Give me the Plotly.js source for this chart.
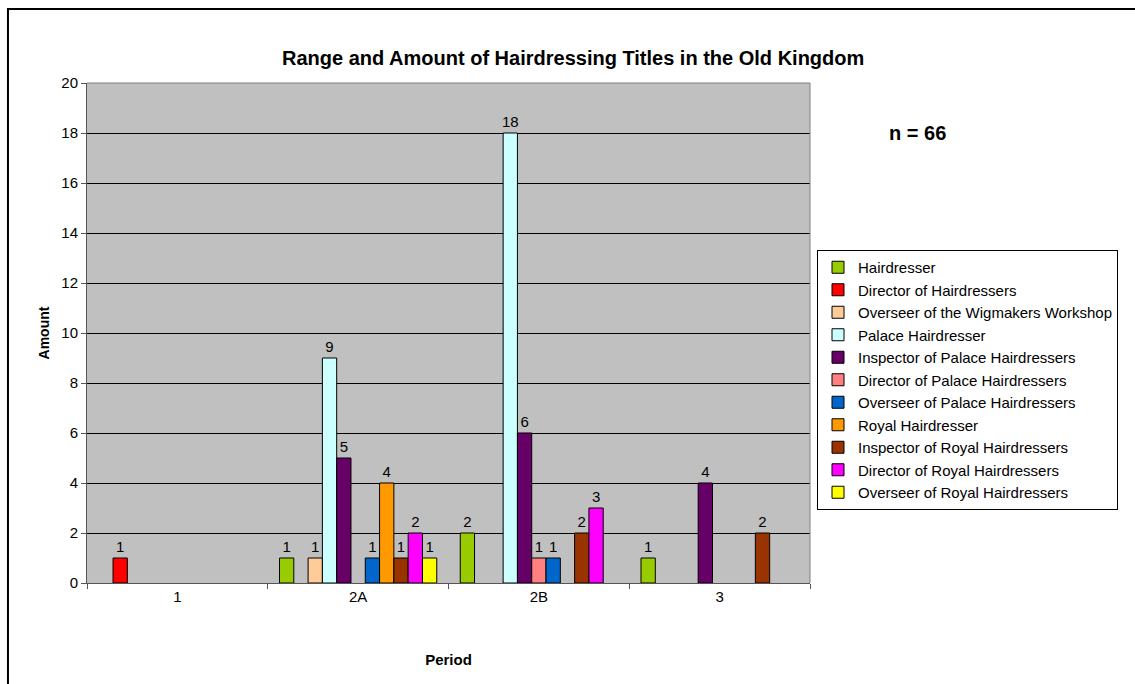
<!DOCTYPE html>
<html>
<head>
<meta charset="utf-8">
<script src="https://cdn.plot.ly/plotly-3.0.1.min.js"></script>
<style>
html,body{margin:0;padding:0;background:#fff;}
#chart{width:1135px;height:684px;}
</style>
</head>
<body>
<div id="chart"></div>
<script>
const periods = ["1", "2A", "2B", "3"];
const seriesNames = [
  "Hairdresser",
  "Director of Hairdressers",
  "Overseer of the Wigmakers Workshop",
  "Palace Hairdresser",
  "Inspector of Palace Hairdressers",
  "Director of Palace Hairdressers",
  "Overseer of Palace Hairdressers",
  "Royal Hairdresser",
  "Inspector of Royal Hairdressers",
  "Director of Royal Hairdressers",
  "Overseer of Royal Hairdressers"
];
const hairdresser             = [null, 1, 2, 1];
const directorOfHairdressers  = [1, null, null, null];
const overseerWigmakers       = [null, 1, null, null];
const palaceHairdresser       = [null, 9, 18, null];
const inspectorPalace         = [null, 5, 6, 4];
const directorPalace          = [null, null, 1, null];
const overseerPalace          = [null, 1, 1, null];
const royalHairdresser        = [null, 4, null, null];
const inspectorRoyal          = [null, 1, 2, 2];
const directorRoyal           = [null, 2, 3, null];
const overseerRoyal           = [null, 1, null, null];
const seriesValues = [hairdresser, directorOfHairdressers, overseerWigmakers, palaceHairdresser,
  inspectorPalace, directorPalace, overseerPalace, royalHairdresser, inspectorRoyal, directorRoyal, overseerRoyal];
const colors = ["#99CC00", "#FF0000", "#FFCC99", "#CCFFFF", "#660066", "#FF8080",
  "#0066CC", "#FF9900", "#993300", "#FF00FF", "#FFFF00"];

const font = "Arial, 'Liberation Sans', sans-serif";

const traces = seriesNames.map((name, i) => ({
  type: "bar",
  name: name,
  x: periods,
  y: seriesValues[i],
  legendgroup: "g" + i,
  marker: {color: colors[i], line: {color: "#000000", width: 1}},
  text: seriesValues[i].map(v => v === null ? "" : String(v)),
  textposition: "outside",
  textfont: {family: font, size: 15, color: "#000"},
  constraintext: "none",
  cliponaxis: false,
  hoverinfo: "x+y+name"
}));

const layout = {
  width: 1135,
  height: 684,
  margin: {l: 87, r: 325, t: 83, b: 101, pad: 0},
  paper_bgcolor: "#ffffff",
  plot_bgcolor: "#C0C0C0",
  barmode: "group",
  bargap: 0.13,
  bargroupgap: 0,
  uniformtext: {mode: false},
  font: {family: font, size: 15, color: "#000"},
  title: {
    text: "<b>Range and Amount of Hairdressing Titles in the Old Kingdom</b>",
    font: {family: font, size: 20, color: "#000"},
    x: 0.505, xanchor: "center", y: 0.915, yanchor: "middle"
  },
  xaxis: {
    type: "category",
    showgrid: false,
    showline: true, linecolor: "#555", linewidth: 1, mirror: false,
    ticks: "outside", ticklen: 5, tickcolor: "#555", tickson: "boundaries",
    tickfont: {family: font, size: 15, color: "#000"},
    title: {text: "<b>Period</b>", font: {family: font, size: 15, color: "#000"}, standoff: 50},
    fixedrange: true
  },
  yaxis: {
    range: [0, 20],
    dtick: 2,
    showgrid: true, gridcolor: "#000", gridwidth: 1,
    showline: true, linecolor: "#555", linewidth: 1,
    ticks: "outside", ticklen: 5, tickcolor: "#555",
    tickfont: {family: font, size: 15, color: "#000"},
    title: {text: "<b>Amount</b>", font: {family: font, size: 14, color: "#000"}, standoff: 8},
    zeroline: false,
    fixedrange: true
  },
  showlegend: true,
  legend: {
    x: 1.0097, xanchor: "left",
    y: 0.666, yanchor: "top",
    bgcolor: "#fff",
    bordercolor: "#000", borderwidth: 1,
    font: {family: font, size: 15, color: "#000"},
    traceorder: "normal",
    tracegroupgap: 2,
    itemwidth: 30
  },
  shapes: [
    {type: "rect", xref: "paper", yref: "paper", x0: -0.1093, y0: -0.25, x1: 1.6, y1: 1.148,
     line: {color: "#000", width: 2}, fillcolor: "rgba(0,0,0,0)", layer: "below"},
    {type: "line", xref: "paper", yref: "paper", x0: 1, x1: 1, y0: 0, y1: 1,
     line: {color: "#808080", width: 1}},
    {type: "line", xref: "paper", yref: "paper", x0: 0, x1: 1, y0: 1, y1: 1,
     line: {color: "#808080", width: 1}}
  ],
  annotations: [
    {text: "<b>n = 66</b>", xref: "paper", yref: "paper", x: 1.149, y: 0.9, xanchor: "center", yanchor: "middle",
     showarrow: false, font: {family: font, size: 20, color: "#000"}}
  ]
};

Plotly.newPlot("chart", traces, layout, {displayModeBar: false, staticPlot: true});
</script>
</body>
</html>
